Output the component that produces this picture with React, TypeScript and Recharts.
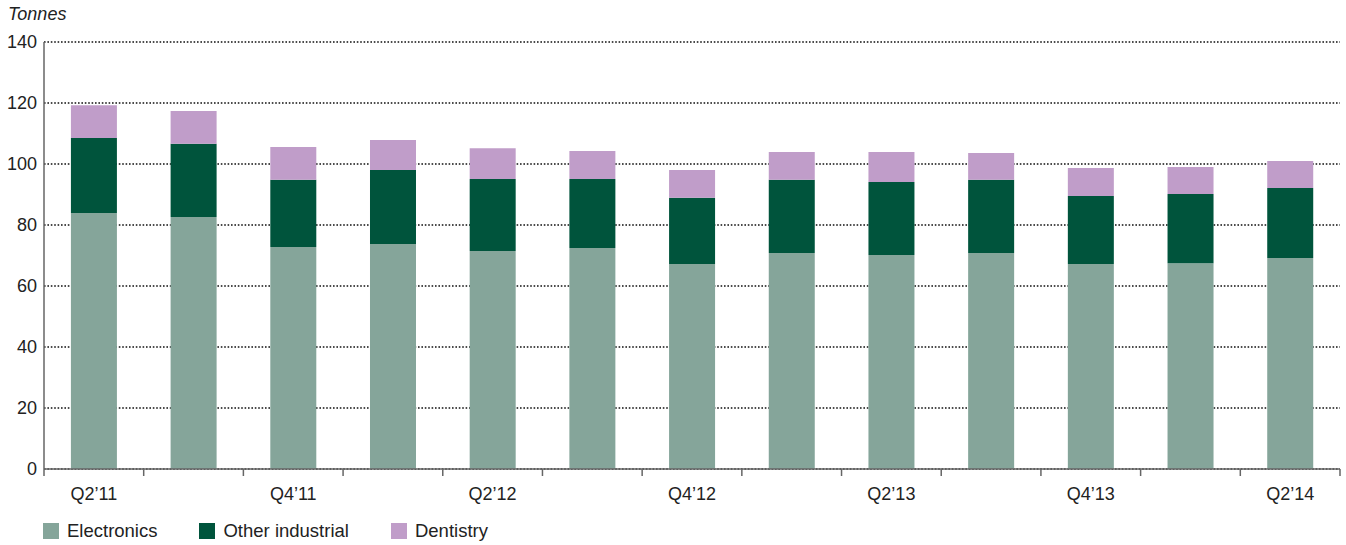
import React from 'react';
import { BarChart, Bar, XAxis, YAxis, CartesianGrid, Legend } from 'recharts';

const quarters = ["Q2’11", "Q3’11", "Q4’11", "Q1’12", "Q2’12", "Q3’12", "Q4’12", "Q1’13", "Q2’13", "Q3’13", "Q4’13", "Q1’14", "Q2’14"];
const electronics = [83.9, 82.6, 72.8, 73.8, 71.5, 72.5, 67.2, 70.8, 70.2, 70.8, 67.2, 67.5, 69.2];
const otherIndustrial = [24.6, 24.0, 22.0, 24.2, 23.6, 22.6, 21.7, 24.0, 23.9, 24.0, 22.3, 22.7, 22.9];
const dentistry = [10.8, 10.8, 10.8, 9.9, 10.1, 9.2, 9.1, 9.1, 9.8, 8.8, 9.2, 8.8, 8.9];
const yTicks = [0, 20, 40, 60, 80, 100, 120, 140];

const seriesNames = ["Electronics", "Other industrial", "Dentistry"];
const colors = ["#85a59a", "#00543c", "#c09dc9"];

const data = quarters.map((q, i) => ({
  q,
  e: electronics[i],
  o: otherIndustrial[i],
  d: dentistry[i],
}));

const FONT = "'Liberation Sans', Arial, sans-serif";
const TEXT = "#222";
const W = 1346;
const H = 545;
const LEFT = 44;
const RIGHT = 6;
const BAND = (W - LEFT - RIGHT) / quarters.length;

const XTick = (props: any) => {
  const { x, y, payload, index } = props;
  const half = BAND / 2;
  return (
    <g>
      <line x1={x - half} x2={x - half} y1={y} y2={y + 7} stroke="#666" strokeWidth={1.5} />
      {index === quarters.length - 1 && (
        <line x1={x + half} x2={x + half} y1={y} y2={y + 7} stroke="#666" strokeWidth={1.5} />
      )}
      {index % 2 === 0 && (
        <text x={x} y={y + 31} textAnchor="middle" fontFamily={FONT} fontSize={18} fill={TEXT}>{payload.value}</text>
      )}
    </g>
  );
};

const LegendContent = () => (
  <div style={{ display: 'flex', alignItems: 'center', fontFamily: FONT, fontSize: 18.5, color: TEXT, paddingLeft: 43, paddingTop: 11 }}>
    {seriesNames.map((n, i) => (
      <div key={n} style={{ display: 'flex', alignItems: 'center', marginRight: 42 }}>
        <div style={{ width: 16, height: 16, background: colors[i], marginRight: 8 }} />
        <span>{n}</span>
      </div>
    ))}
  </div>
);

export default function App() {
  return (
    <div style={{ position: 'absolute', left: 0, top: 0, width: W, height: H, background: '#fff' }}>
      <div style={{ position: 'absolute', left: 8, top: 4, fontFamily: FONT, fontStyle: 'italic', fontSize: 18, color: TEXT }}>Tonnes</div>
      <BarChart width={W} height={H} data={data} margin={{ top: 42, right: RIGHT, left: 0, bottom: 0 }} barCategoryGap="27%">
        <CartesianGrid horizontal={true} vertical={false} stroke="#111" strokeDasharray="1.6 1.8" strokeWidth={1.5} />
        <XAxis dataKey="q" height={40} interval={0} tickLine={false} tickSize={0} tickMargin={0}
          axisLine={{ stroke: '#666', strokeWidth: 1.5 }}
          tick={<XTick />} />
        <YAxis width={LEFT} domain={[0, 140]} ticks={yTicks} tickLine={false} tickSize={0} tickMargin={7}
          axisLine={{ stroke: '#666', strokeWidth: 1.5 }}
          tick={{ fontFamily: FONT, fontSize: 18, fill: TEXT }} />
        <Legend verticalAlign="bottom" height={36} content={<LegendContent />} wrapperStyle={{ left: 0, width: W }} />
        <Bar dataKey="e" name={seriesNames[0]} stackId="s" fill={colors[0]} isAnimationActive={false} />
        <Bar dataKey="o" name={seriesNames[1]} stackId="s" fill={colors[1]} isAnimationActive={false} />
        <Bar dataKey="d" name={seriesNames[2]} stackId="s" fill={colors[2]} isAnimationActive={false} />
      </BarChart>
    </div>
  );
}
